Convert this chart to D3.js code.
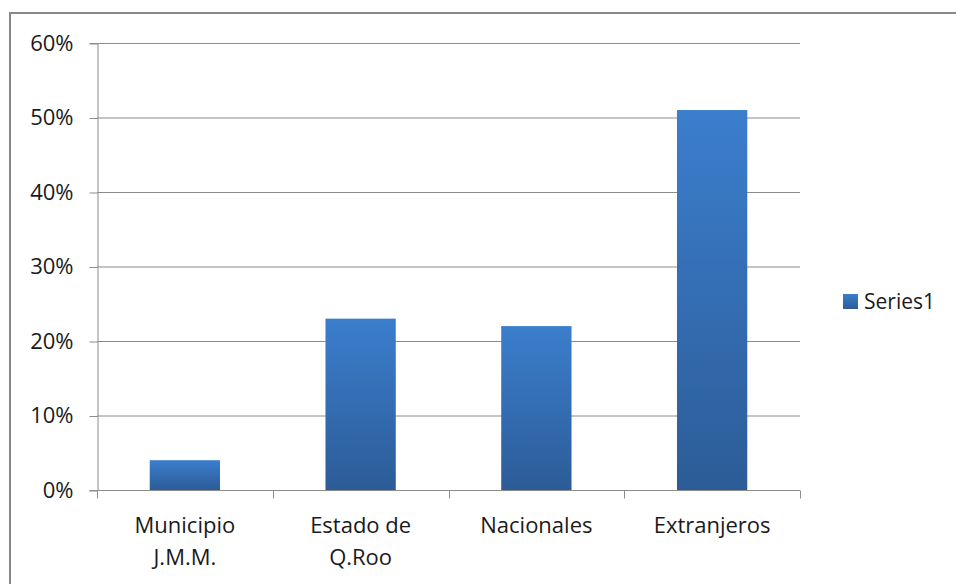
<!DOCTYPE html>
<html>
<head>
<meta charset="utf-8">
<script src="https://cdn.jsdelivr.net/npm/d3@7"></script>
<style>
  body { margin: 0; background: #fff; }
  svg { display: block; font-family: "Open Sans", sans-serif; }
</style>
</head>
<body>
<svg id="chart" width="956" height="584"></svg>
<script>
const categories = [['Municipio', 'J.M.M.'], ['Estado de', 'Q.Roo'], ['Nacionales'], ['Extranjeros']]
const values = [0.04, 0.23, 0.22, 0.51]
const yTicks = [0, 0.1, 0.2, 0.3, 0.4, 0.5, 0.6]
const seriesName = 'Series1'

const svg = d3.select('#chart')
const margin = { top: 43, left: 97, right: 156, bottom: 94 }
const width = 956 - margin.left - margin.right
const height = 584 - margin.top - margin.bottom
const axisColour = '#8c8c8c'
const textColour = '#1a1a1a'

// outer frame (right and bottom edges are off-screen in the reference)
svg.append('path')
    .attr('d', 'M10,584 V13 H956')
    .attr('fill', 'none')
    .attr('stroke', '#888')
    .attr('stroke-width', 2)

const defs = svg.append('defs')
const grad = defs.append('linearGradient')
    .attr('id', 'barGrad')
    .attr('x1', 0).attr('y1', 0).attr('x2', 0).attr('y2', 1)
grad.append('stop').attr('offset', '0%').attr('stop-color', '#3b7ecd')
grad.append('stop').attr('offset', '100%').attr('stop-color', '#2c5c97')

const chart = svg.append('g').attr('transform', `translate(${margin.left}, ${margin.top})`)

const x = d3.scaleBand().domain(d3.range(categories.length)).range([0, width]).paddingInner(0.6).paddingOuter(0.3)
const y = d3.scaleLinear().domain([0, 0.6]).range([height, 0])

// gridlines
chart.append('g')
    .selectAll('line')
    .data(yTicks.slice(1))
    .join('line')
    .attr('x1', 0).attr('x2', width)
    .attr('y1', d => y(d) + 0.5).attr('y2', d => y(d) + 0.5)
    .attr('stroke', axisColour)

// bars
chart.append('g')
    .selectAll('rect')
    .data(values)
    .join('rect')
    .attr('x', (d, i) => x(i))
    .attr('width', x.bandwidth())
    .attr('y', d => y(d))
    .attr('height', d => height - y(d))
    .attr('fill', 'url(#barGrad)')

// y axis
chart.append('g')
    .attr('transform', 'translate(0.5, 0)')
    .call(d3.axisLeft(y).tickValues(yTicks).tickSize(8).tickPadding(16).tickFormat(d3.format('.0%')))
    .call(g => {
        g.select('.domain').attr('stroke', axisColour)
        g.selectAll('.tick line').attr('stroke', axisColour).attr('transform', 'translate(0, 0.5)')
        g.selectAll('text').attr('fill', textColour).style('font-size', '22px').attr('font-family', '"Open Sans", sans-serif')
    })

// x axis
const step = width / categories.length
const xAxis = chart.append('g').attr('transform', `translate(0, ${height + 0.5})`)
xAxis.append('line').attr('x1', 0).attr('x2', width).attr('stroke', axisColour)
xAxis.selectAll('.xtick')
    .data(d3.range(categories.length + 1))
    .join('line')
    .attr('x1', d => Math.round(d * step) + 0.5).attr('x2', d => Math.round(d * step) + 0.5)
    .attr('y1', 0).attr('y2', 8)
    .attr('stroke', axisColour)

xAxis.selectAll('.xlabel')
    .data(categories)
    .join('text')
    .attr('text-anchor', 'middle')
    .attr('fill', textColour)
    .style('font-size', '22px')
    .each(function (d, i) {
        d3.select(this).selectAll('tspan')
            .data(d)
            .join('tspan')
            .attr('x', x(i) + x.bandwidth() / 2)
            .attr('y', (t, j) => 42 + j * 32)
            .text(t => t)
    })

// legend
const legend = svg.append('g').attr('transform', 'translate(843, 294)')
legend.append('rect').attr('width', 15).attr('height', 15).attr('fill', 'url(#barGrad)')
legend.append('text')
    .attr('x', 21).attr('y', 15)
    .attr('fill', textColour)
    .style('font-size', '21px')
    .text(seriesName)
</script>
</body>
</html>
